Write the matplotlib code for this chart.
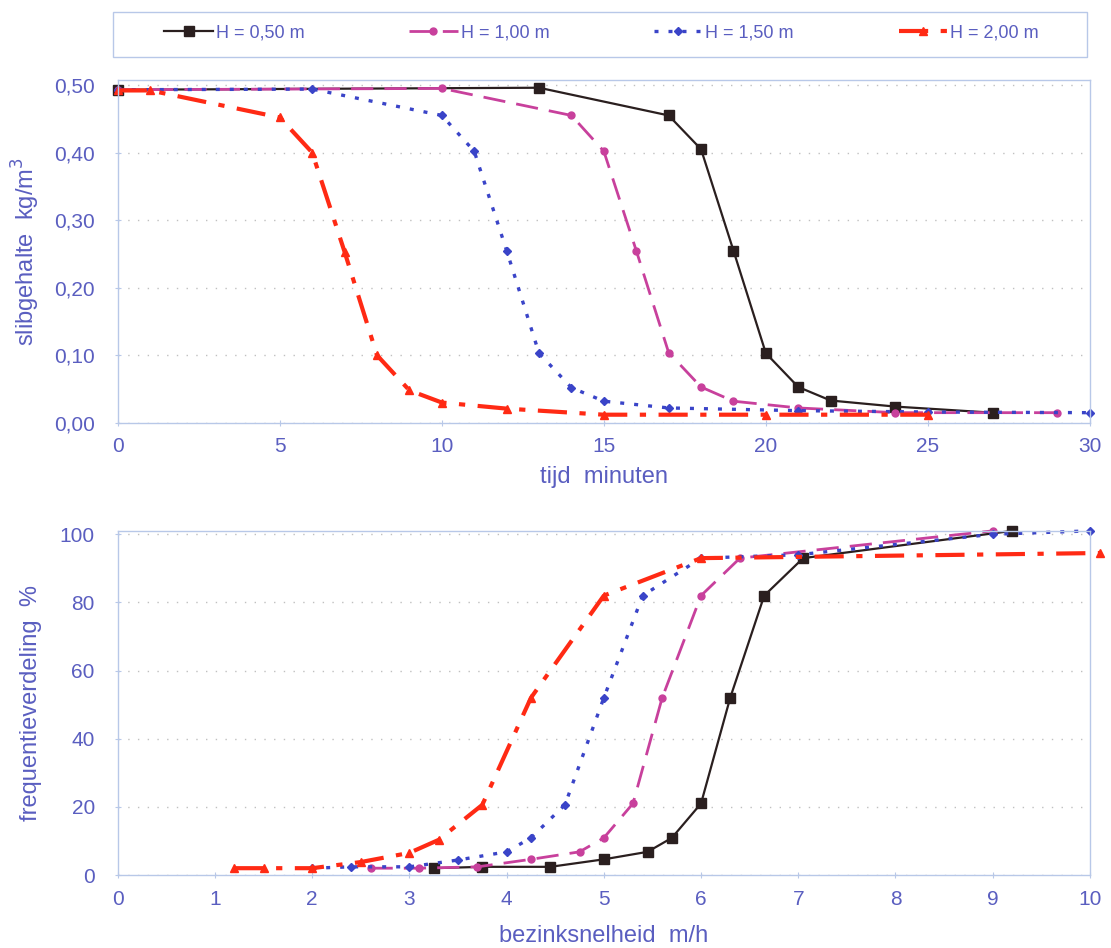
import numpy as np
import matplotlib.pyplot as plt
from matplotlib.patches import Rectangle
from matplotlib.ticker import FuncFormatter

plt.rcParams['font.family'] = ['Liberation Sans', 'DejaVu Sans']

txt = '#5a5ec0'
spine = '#b8c8e8'

labels = ['H = 0,50 m', 'H = 1,00 m', 'H = 1,50 m', 'H = 2,00 m']

# top: slibgehalte vs tijd
t_050 = [0, 13, 17, 18, 19, 20, 21, 22, 24, 27]
c_050 = [0.493, 0.496, 0.455, 0.405, 0.255, 0.103, 0.053, 0.033, 0.024, 0.015]
t_100 = [0, 10, 14, 15, 16, 17, 18, 19, 21, 24, 29]
c_100 = [0.493, 0.495, 0.455, 0.402, 0.255, 0.104, 0.053, 0.032, 0.022, 0.015, 0.015]
t_150 = [0, 6, 10, 11, 12, 13, 14, 15, 17, 21, 25, 30]
c_150 = [0.493, 0.494, 0.455, 0.402, 0.255, 0.103, 0.052, 0.032, 0.022, 0.018, 0.016, 0.015]
t_200 = [0, 1, 5, 6, 7, 8, 9, 10, 12, 15, 20, 25]
c_200 = [0.492, 0.492, 0.452, 0.40, 0.253, 0.10, 0.048, 0.03, 0.021, 0.012, 0.012, 0.012]

# bottom: frequentieverdeling vs bezinksnelheid
v_050 = [3.25, 3.75, 4.45, 5.0, 5.45, 5.7, 6.0, 6.3, 6.65, 7.05, 9.2]
f_050 = [2, 2.4, 2.4, 4.6, 6.8, 10.9, 21, 52, 82, 93, 101]
v_100 = [2.6, 3.1, 3.7, 4.25, 4.75, 5.0, 5.3, 5.6, 6.0, 6.4, 9.0]
f_100 = [2, 2, 2.4, 4.6, 6.8, 10.9, 21, 52, 82, 93, 101]
v_150 = [2.0, 2.4, 3.0, 3.5, 4.0, 4.25, 4.6, 5.0, 5.4, 6.0, 7.0, 9.0, 10.0]
f_150 = [2, 2.4, 2.4, 4.4, 6.8, 10.9, 20.6, 52, 82, 93, 94, 100, 101]
v_200 = [1.2, 1.5, 2.0, 2.5, 3.0, 3.3, 3.75, 4.25, 5.0, 6.0, 10.1]
f_200 = [2, 2, 2, 3.8, 6.5, 10.3, 20.6, 52, 82, 93, 94.5]

styles = [
    dict(color='#2a1f1f', linestyle='-', linewidth=1.6, marker='s', markersize=7),
    dict(color='#c8409c', linestyle=(0, (8, 4)), linewidth=2.0, marker='o', markersize=5),
    dict(color='#3a44c8', linestyle=(0, (1.2, 3)), linewidth=2.4, marker='D', markersize=4.5),
    dict(color='#ff2a14', linestyle=(0, (7, 3, 1.5, 3)), linewidth=3.0, marker='^', markersize=6),
]

fig = plt.figure(figsize=(11.11, 9.48), dpi=100)
ax1 = fig.add_axes([0.106, 0.554, 0.875, 0.362])
ax2 = fig.add_axes([0.106, 0.077, 0.875, 0.363])

top = [(t_050, c_050), (t_100, c_100), (t_150, c_150), (t_200, c_200)]
bot = [(v_050, f_050), (v_100, f_100), (v_150, f_150), (v_200, f_200)]

lines = []
for (x, y), st, lab in zip(top, styles, labels):
    l, = ax1.plot(x, y, label=lab, clip_on=False, **st)
    lines.append(l)
for (x, y), st in zip(bot, styles):
    ax2.plot(x, y, clip_on=False, **st)

ax1.set_xlim(0, 30)
ax1.set_ylim(0, 0.508)
ax1.set_xticks(np.arange(0, 31, 5))
ax1.set_yticks(np.arange(0, 0.51, 0.1))
ax1.yaxis.set_major_formatter(FuncFormatter(lambda v, p: f'{v:.2f}'.replace('.', ',')))
ax1.set_xlabel('tijd  minuten', color=txt, fontsize=17)
ax1.set_ylabel('slibgehalte  kg/m$^3$', color=txt, fontsize=17)
ax1.xaxis.set_label_coords(0.5, -0.125)
ax1.yaxis.set_label_coords(-0.078, 0.5)

ax2.set_xlim(0, 10)
ax2.set_ylim(0, 101)
ax2.set_xticks(np.arange(0, 11, 1))
ax2.set_yticks(np.arange(0, 101, 20))
ax2.set_xlabel('bezinksnelheid  m/h', color=txt, fontsize=17)
ax2.set_ylabel('frequentieverdeling  %', color=txt, fontsize=17)
ax2.xaxis.set_label_coords(0.5, -0.145)
ax2.yaxis.set_label_coords(-0.078, 0.5)

for ax in (ax1, ax2):
    for s in ax.spines.values():
        s.set_color(spine)
        s.set_linewidth(1.0)
    ax.tick_params(colors=txt, labelsize=15, length=5, direction='inout', color=spine)
    ax.tick_params(axis='x', pad=8)
    ax.tick_params(axis='y', pad=14)
    ax.grid(axis='y', linestyle=(0, (1, 6)), color='#c0c0c0', linewidth=1.0)
    ax.set_axisbelow(True)

fig.patches.append(Rectangle((0.1017, 0.9399), 0.8767, 0.0475, transform=fig.transFigure,
                             fill=False, edgecolor=spine, linewidth=1.0))
fig.legend(handles=lines, loc='center', ncol=4, bbox_to_anchor=(0.5414, 0.965),
           frameon=False, fontsize=13, labelcolor=txt, handlelength=2.7,
           handletextpad=0.15, columnspacing=5.8)

fig.savefig('out.png', dpi=100)
